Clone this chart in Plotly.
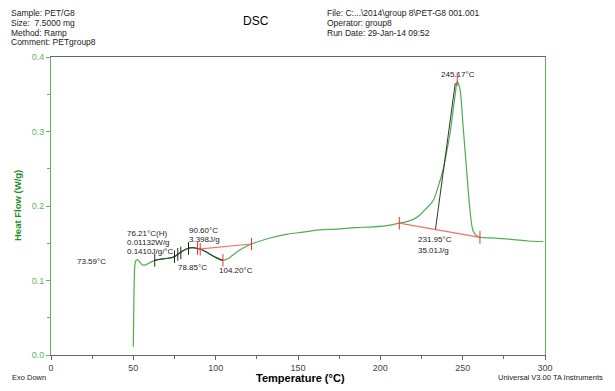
import plotly.graph_objects as go

# ---- data ----
temp_c = [50.0, 50.2, 50.5, 50.9, 51.4, 52.3, 53.5, 55.5, 57.5, 60.0, 63.0, 68.0, 74.0, 77.0,
          79.5, 83.0, 86.0, 89.0, 92.0, 96.0, 100.0, 104.2, 108.0, 112.0, 117.0, 121.8,
          127.0, 133.0, 143.0, 153.0, 163.0, 173.5, 185.0, 195.7, 205.0, 211.5, 216.0,
          220.0, 224.0, 228.0, 232.0, 235.0, 238.0, 240.5, 242.5, 244.0, 245.5, 246.7,
          247.5, 248.5, 250.3, 252.4, 254.4, 255.5, 256.4, 258.5, 260.5, 270.0, 280.7,
          290.0, 299.0]
heat_flow = [0.011, 0.050, 0.095, 0.120, 0.126, 0.128, 0.126, 0.121, 0.121, 0.124, 0.127,
             0.129, 0.131, 0.135, 0.139, 0.143, 0.144, 0.143, 0.141, 0.136, 0.131, 0.127,
             0.130, 0.137, 0.144, 0.149, 0.153, 0.157, 0.162, 0.165, 0.168, 0.169, 0.171,
             0.172, 0.174, 0.177, 0.179, 0.182, 0.188, 0.197, 0.207, 0.225, 0.248, 0.275,
             0.300, 0.325, 0.350, 0.367, 0.364, 0.355, 0.306, 0.248, 0.195, 0.175, 0.166,
             0.160, 0.158, 0.157, 0.155, 0.153, 0.152]

# analysed segment (dark overlay)
dark_T = [63.0, 68.0, 74.0, 77.0, 79.5, 83.0, 86.0, 89.0, 92.0, 96.0, 100.0, 104.2]
dark_HF = [0.127, 0.129, 0.131, 0.135, 0.139, 0.143, 0.144, 0.143, 0.141, 0.136, 0.131, 0.127]

# integration baselines
base1_T = [89.5, 121.8]
base1_HF = [0.142, 0.149]
base2_T = [211.5, 260.5]
base2_HF = [0.177, 0.158]

# onset tangent
tangent_T = [233.5, 245.5]
tangent_HF = [0.169, 0.365]

# event markers
black_tick_T = [63.0, 75.0, 77.0, 78.85, 83.5]
black_tick_HF = [0.127, 0.132, 0.135, 0.137, 0.143]
red_tick_T = [89.0, 90.6, 104.4, 121.8, 211.5, 260.5, 246.7]
red_tick_HF = [0.143, 0.142, 0.127, 0.149, 0.177, 0.158, 0.370]

x_ticks = [0, 50, 100, 150, 200, 250, 300]
y_ticks = [0.0, 0.1, 0.2, 0.3, 0.4]

GREEN = "#5cb85c"
CURVE = "#4fae4f"
FONT = "Liberation Sans, Arial, sans-serif"

fig = go.Figure()
fig.add_trace(go.Scatter(x=temp_c, y=heat_flow, mode="lines",
                         line=dict(color=CURVE, width=1.2), line_shape="spline"))
fig.add_trace(go.Scatter(x=dark_T, y=dark_HF, mode="lines",
                         line=dict(color="#2d4a2d", width=1.2), line_shape="spline"))
fig.add_trace(go.Scatter(x=base1_T, y=base1_HF, mode="lines",
                         line=dict(color="#f07070", width=1.2)))
fig.add_trace(go.Scatter(x=base2_T, y=base2_HF, mode="lines",
                         line=dict(color="#f07070", width=1.2)))
fig.add_trace(go.Scatter(x=tangent_T, y=tangent_HF, mode="lines",
                         line=dict(color="#333333", width=1)))
fig.add_trace(go.Scatter(x=black_tick_T, y=black_tick_HF, mode="markers",
                         marker=dict(symbol="line-ns-open", size=9, color="#222222",
                                     line=dict(color="#222222", width=1))))
fig.add_trace(go.Scatter(x=red_tick_T, y=red_tick_HF, mode="markers",
                         marker=dict(symbol="line-ns-open", size=9, color="#e83030",
                                     line=dict(color="#e83030", width=1))))

# pixel -> paper helpers
L, R, T, B = 51, 545, 57, 355
def px(x):
    return (x - L) / (R - L)
def py(y):
    return (B - y) / (B - T)

ann = []
def txt(x, y, s, size=8, xanchor="left", color="#222222", bold=False, angle=0):
    if bold:
        s = "<b>" + s + "</b>"
    ann.append(dict(x=px(x), y=py(y), xref="paper", yref="paper", text=s,
                    showarrow=False, xanchor=xanchor, yanchor="middle", textangle=angle,
                    font=dict(size=size, color=color, family=FONT)))

# header
for i, s in enumerate(["Sample: PET/G8", "Size:&nbsp;&nbsp;7.5000 mg", "Method: Ramp", "Comment: PETgroup8"]):
    txt(9, 13 + i * 9.8, s, size=8.5)
for i, s in enumerate(["File: C:...\\2014\\group 8\\PET-G8 001.001", "Operator: group8", "Run Date: 29-Jan-14 09:52"]):
    txt(325, 13 + i * 9.8, s, size=8.5)
txt(256, 21, "DSC", size=12, xanchor="center", color="#000000")

# event labels
txt(108, 261, "73.59°C", xanchor="right")
txt(125, 233, "76.21°C(H)")
txt(125, 242, "0.01132W/g")
txt(125, 251, "0.1410J/g/°C")
txt(187, 231, "90.60°C")
txt(187, 240, "3.398J/g")
txt(176, 267, "78.85°C")
txt(217, 270, "104.20°C")
txt(458, 74, "245.17°C", xanchor="center")
txt(416, 240, "231.95°C")
txt(416, 250, "35.01J/g")

# axis titles
txt(300, 378, "Temperature (°C)", size=11, xanchor="center", color="#000000", bold=True)
txt(17, 206, "Heat Flow (W/g)", size=9.5, xanchor="center", color="#1f8f1f", bold=True, angle=-90)

# footer
txt(10, 377, "Exo Down", size=7.5)
txt(605, 377, "Universal V3.00 TA Instruments", size=7.5, xanchor="right")

fig.update_layout(
    width=615, height=391,
    margin=dict(l=L, r=615 - R, t=T, b=391 - B),
    paper_bgcolor="white", plot_bgcolor="white",
    showlegend=False,
    annotations=ann,
    font=dict(family=FONT, size=9),
    xaxis=dict(range=[0, 300], tickvals=x_ticks, ticks="outside", ticklen=4,
               tickcolor="#666666", linecolor="#666666", linewidth=1, mirror=True,
               showgrid=False, zeroline=False, tickfont=dict(size=9, color="#444444"),
               minor=dict(dtick=25, ticks="outside", ticklen=3, tickcolor="#666666"),
               automargin=False),
    yaxis=dict(range=[0, 0.4], tickvals=y_ticks, tickformat=".1f", ticks="outside",
               ticklen=4, tickcolor=GREEN, linecolor=GREEN, linewidth=1, mirror=True,
               showgrid=False, zeroline=False, tickfont=dict(size=9, color=GREEN),
               minor=dict(dtick=0.05, ticks="outside", ticklen=3, tickcolor=GREEN),
               automargin=False),
)

fig.write_html("out.html", config={"displayModeBar": False},
               post_script="document.body.style.margin='0';document.body.style.overflow='hidden';")
